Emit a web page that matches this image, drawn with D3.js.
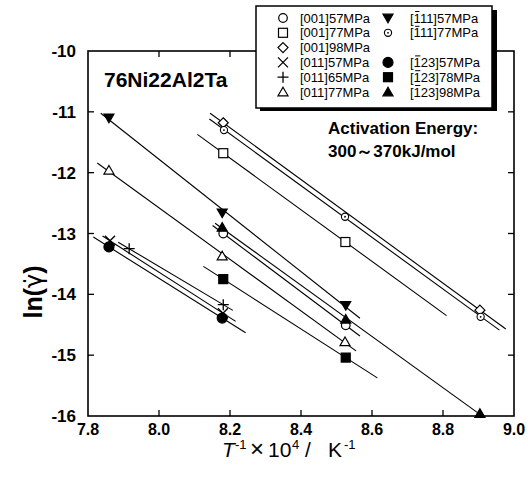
<!DOCTYPE html>
<html>
<head>
<meta charset="utf-8">
<script src="https://cdn.jsdelivr.net/npm/d3@7"></script>
<style>body{margin:0;background:#fff}</style>
</head>
<body>
<svg id="mySVG" width="528" height="477"></svg>
<script>
//---axis ticks---
var xTicks = [7.8, 8.0, 8.2, 8.4, 8.6, 8.8, 9.0]
var yTicks = [-10, -11, -12, -13, -14, -15, -16]

//---series---
var seriesNames = ["[001]57MPa", "[001]77MPa", "[001]98MPa", "[011]57MPa", "[011]65MPa", "[011]77MPa",
    "[111]57MPa", "[111]77MPa", "[123]57MPa", "[123]78MPa", "[123]98MPa"]
//---first index digit carries a bar (negative)---
var seriesBar = [false, false, false, false, false, false, true, true, true, true, true]
var seriesSymbols = ["circle", "square", "diamond", "x", "plus", "triangle",
    "triangleDown", "dotCircle", "circleFilled", "squareFilled", "triangleFilled"]
var seriesX = [
    [8.181, 8.526],
    [8.181, 8.525],
    [8.181, 8.904],
    [7.862, 8.180],
    [7.916, 8.181],
    [7.859, 8.178, 8.524],
    [7.859, 8.178, 8.526],
    [8.183, 8.524, 8.906],
    [7.859, 8.178],
    [8.181, 8.526],
    [8.178, 8.526, 8.904]
]
var seriesY = [
    [-13.00, -14.51],
    [-11.68, -13.14],
    [-11.18, -14.26],
    [-13.12, -14.31],
    [-13.25, -14.17],
    [-11.96, -13.37, -14.78],
    [-11.10, -12.66, -14.18],
    [-11.30, -12.725, -14.37],
    [-13.22, -14.39],
    [-13.75, -15.04],
    [-12.90, -14.41, -15.96]
]
//---x range of each fitted line---
var lineFrom = [8.151, 8.108, 8.144, 7.841, 7.885, 7.826, 7.836, 8.142, 7.815, 8.125, 8.158]
var lineTo = [8.566, 8.810, 8.977, 8.216, 8.208, 8.555, 8.566, 8.959, 8.244, 8.615, 8.904]

//---legend columns (index into series, -1 = empty row)---
var legendLeft = [0, 1, 2, 3, 4, 5]
var legendRight = [6, 7, -1, 8, 9, 10]

var FONT = "'Liberation Sans', Arial, sans-serif"
var MySVG = d3.select("#mySVG")

var X = d3.scaleLinear().domain([7.8, 9.0]).range([88, 514])
var Y = d3.scaleLinear().domain([-10, -16]).range([51, 416])

//---least squares fit---
function fitLine(xs, ys)
{
    var n = xs.length, mx = d3.mean(xs), my = d3.mean(ys)
    var sxy = 0, sxx = 0
    for (var i = 0; i < n; i++)
    {
        sxy += (xs[i] - mx) * (ys[i] - my)
        sxx += (xs[i] - mx) * (xs[i] - mx)
    }
    var b = sxy / sxx
    return function(x) { return my + b * (x - mx) }
}

//---draws one marker centred at 0,0---
function drawSymbol(g, type)
{
    var r = 4.5
    if (type == "circle" || type == "circleFilled")
        g.append("circle").attr("r", type == "circle" ? 4.3 : 5)
        .attr("fill", type == "circle" ? "white" : "black").attr("stroke", "black").attr("stroke-width", 1.2)
    else if (type == "dotCircle")
    {
        g.append("circle").attr("r", 3.6).attr("fill", "white").attr("stroke", "black").attr("stroke-width", 1.1)
        g.append("circle").attr("r", 0.9).attr("fill", "black")
    }
    else if (type == "square" || type == "squareFilled")
        g.append("rect").attr("x", -r).attr("y", -r).attr("width", 2 * r).attr("height", 2 * r)
        .attr("fill", type == "square" ? "white" : "black").attr("stroke", "black").attr("stroke-width", 1.2)
    else if (type == "diamond")
        g.append("path").attr("d", "M0,-5L5,0L0,5L-5,0Z")
        .attr("fill", "white").attr("stroke", "black").attr("stroke-width", 1.2)
    else if (type == "triangle" || type == "triangleFilled")
        g.append("path").attr("d", "M0,-4.8L5,3.8L-5,3.8Z")
        .attr("fill", type == "triangle" ? "white" : "black").attr("stroke", "black").attr("stroke-width", 1.2)
    else if (type == "triangleDown")
        g.append("path").attr("d", "M0,4.8L5,-3.8L-5,-3.8Z")
        .attr("fill", "black").attr("stroke", "black").attr("stroke-width", 1.2)
    else if (type == "x")
        g.append("path").attr("d", "M-5,-5L5,5M-5,5L5,-5")
        .attr("fill", "none").attr("stroke", "black").attr("stroke-width", 1.3)
    else if (type == "plus")
        g.append("path").attr("d", "M-5.5,0L5.5,0M0,-5.5L0,5.5")
        .attr("fill", "none").attr("stroke", "black").attr("stroke-width", 1.3)
}

//---frame---
MySVG.append("rect")
.attr("x", X(7.8)).attr("y", Y(-10))
.attr("width", X(9.0) - X(7.8)).attr("height", Y(-16) - Y(-10))
.attr("fill", "none").attr("stroke", "black").attr("stroke-width", 1.6)

//---ticks, all four sides, pointing in---
var tickG = MySVG.append("g").attr("stroke", "black").attr("stroke-width", 1.3)
xTicks.slice(1, -1).forEach(function(t)
{
    tickG.append("line").attr("x1", X(t)).attr("x2", X(t)).attr("y1", Y(-16)).attr("y2", Y(-16) - 6)
    tickG.append("line").attr("x1", X(t)).attr("x2", X(t)).attr("y1", Y(-10)).attr("y2", Y(-10) + 6)
})
yTicks.slice(1, -1).forEach(function(t)
{
    tickG.append("line").attr("x1", X(7.8)).attr("x2", X(7.8) + 6).attr("y1", Y(t)).attr("y2", Y(t))
    tickG.append("line").attr("x1", X(9.0)).attr("x2", X(9.0) - 6).attr("y1", Y(t)).attr("y2", Y(t))
})

//---tick labels---
MySVG.append("g").selectAll("text").data(xTicks).enter().append("text")
.attr("x", function(d) { return X(d) }).attr("y", 435)
.attr("text-anchor", "middle").attr("font-family", FONT).attr("font-weight", "bold").attr("font-size", 16)
.text(function(d) { return d.toFixed(1) })
MySVG.append("g").selectAll("text").data(yTicks).enter().append("text")
.attr("x", 76).attr("y", function(d) { return Y(d) + 6 })
.attr("text-anchor", "end").attr("font-family", FONT).attr("font-weight", "bold").attr("font-size", 17)
.text(function(d) { return d })

//---fitted lines---
var lineG = MySVG.append("g").attr("stroke", "black").attr("stroke-width", 1.1)
seriesX.forEach(function(xs, i)
{
    var f = fitLine(xs, seriesY[i])
    lineG.append("line")
    .attr("x1", X(lineFrom[i])).attr("y1", Y(f(lineFrom[i])))
    .attr("x2", X(lineTo[i])).attr("y2", Y(f(lineTo[i])))
})

//---points---
var pointG = MySVG.append("g")
seriesX.forEach(function(xs, i)
{
    xs.forEach(function(x, j)
    {
        var g = pointG.append("g").attr("transform", "translate(" + X(x) + "," + Y(seriesY[i][j]) + ")")
        drawSymbol(g, seriesSymbols[i])
    })
})

//---annotations---
MySVG.append("text").attr("x", 104).attr("y", 87)
.attr("font-family", FONT).attr("font-weight", "bold").attr("font-size", 21)
.text("76Ni22Al2Ta")
MySVG.append("text").attr("x", 328).attr("y", 134)
.attr("font-family", FONT).attr("font-weight", "bold").attr("font-size", 17)
.text("Activation Energy:")
MySVG.append("text").attr("x", 328).attr("y", 157)
.attr("font-family", FONT).attr("font-weight", "bold").attr("font-size", 17)
.text("300\uFF5E370kJ/mol")

//---axis titles---
var xt = MySVG.append("text").attr("y", 457)
.attr("font-family", FONT).attr("font-size", 21)
xt.append("tspan").attr("x", 222).attr("font-style", "italic").text("T")
xt.append("tspan").attr("x", 235).attr("font-size", 13).attr("dy", -8).text("-1")
xt.append("tspan").attr("x", 250).attr("dy", 8).attr("font-size", 24).text("\u00D7")
xt.append("tspan").attr("x", 268).text("10")
xt.append("tspan").attr("x", 292).attr("font-size", 13).attr("dy", -8).text("4")
xt.append("tspan").attr("x", 305).attr("dy", 8).text("/")
xt.append("tspan").attr("x", 328).text("K")
xt.append("tspan").attr("x", 344).attr("font-size", 13).attr("dy", -8).text("-1")

var yt = MySVG.append("text").attr("transform", "translate(42,292) rotate(-90)")
.attr("text-anchor", "middle").attr("font-family", FONT).attr("font-weight", "bold").attr("font-size", 25)
yt.append("tspan").text("ln(")
yt.append("tspan").attr("font-family", "'DejaVu Sans'").attr("font-weight", "normal").attr("font-size", 24).text("\u03B3\u0307")
yt.append("tspan").text(")")

//---legend box with shadow---
var LegendG = MySVG.append("g")
LegendG.append("rect").attr("x", 260).attr("y", 10).attr("width", 237).attr("height", 101).attr("fill", "black")
LegendG.append("rect").attr("x", 256).attr("y", 6).attr("width", 236).attr("height", 102)
.attr("fill", "white").attr("stroke", "black").attr("stroke-width", 1.5)

function legendColumn(list, symX, textX)
{
    list.forEach(function(idx, row)
    {
        if (idx < 0) return
        var y = 18 + row * 14.8
        var g = LegendG.append("g").attr("transform", "translate(" + symX + "," + y + ")")
        drawSymbol(g, seriesSymbols[idx])
        var t = LegendG.append("text").attr("x", textX).attr("y", y + 4.5)
        .attr("font-family", FONT).attr("font-size", 13)
        .text(seriesNames[idx])
        if (seriesBar[idx])
        {
            //---bar over the first index digit---
            var node = t.node()
            var a = node.getStartPositionOfChar(1).x, b = node.getEndPositionOfChar(1).x
            LegendG.append("line").attr("x1", a + 1.5).attr("x2", b - 0.5)
            .attr("y1", y - 6.5).attr("y2", y - 6.5)
            .attr("stroke", "black").attr("stroke-width", 1)
        }
    })
}
legendColumn(legendLeft, 283, 300)
legendColumn(legendRight, 388, 410)
</script>
</body>
</html>
